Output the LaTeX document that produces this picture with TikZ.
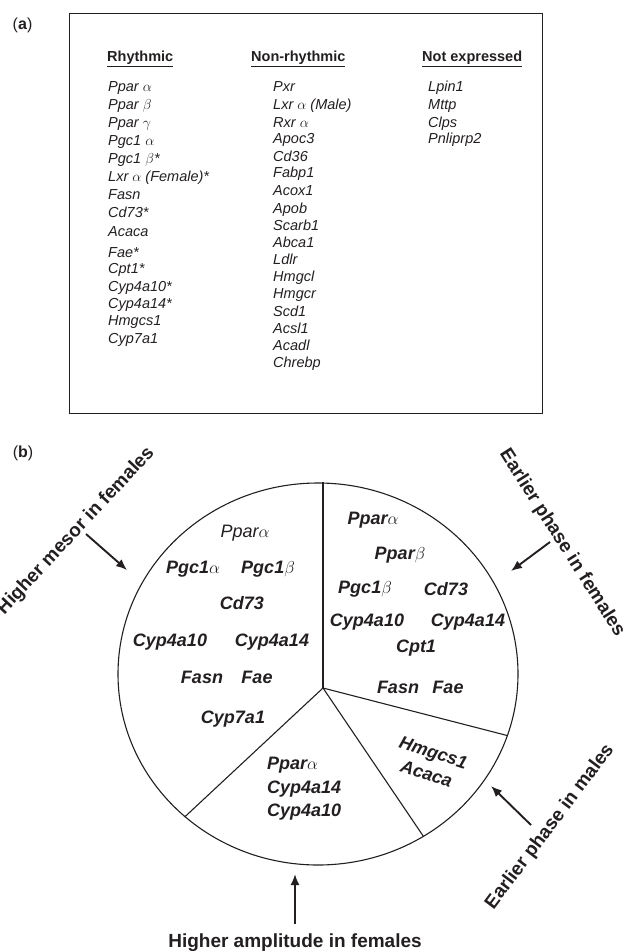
\documentclass[tikz,border=0pt]{standalone}
\usepackage{fontspec}
\setmainfont{Liberation Sans}
\usepackage{tikz}
\usetikzlibrary{shapes.geometric,arrows.meta}
\definecolor{ink}{RGB}{35, 31, 32}

\tikzset{
  gene/.style={anchor=base west, inner sep=0pt, text=ink, font=\itshape\fontsize{14.5}{17}\selectfont},
  head/.style={anchor=base west, inner sep=0pt, text=ink, font=\bfseries\fontsize{14.5}{17}\selectfont},
  slice/.style={inner sep=0pt, text=ink, font=\bfseries\itshape\fontsize{18}{22}\selectfont},
  lightslice/.style={inner sep=0pt, text=ink, font=\itshape\fontsize{18}{22}\selectfont},
  note/.style={inner sep=0pt, text=ink, font=\bfseries\fontsize{19}{22}\selectfont},
  panel/.style={inner sep=0pt, text=ink, font=\fontsize{16}{18}\selectfont},
  pointer/.style={line width=1.9pt, draw=ink, -{Latex[length=11pt, width=9pt]}}
}

\begin{document}
\begin{tikzpicture}
\useasboundingbox (0pt, 0pt) rectangle (625pt, -952pt);
% (a) table of genes
\node (pa) [panel] at (22.5pt, -25pt) {(\textbf{a})};
\draw [line width=1pt, draw=ink] (69pt, -14pt) rectangle (542pt, -413pt);
\node (h1) [head] at (107pt, -62pt) {\underline{Rhythmic}};
\node (h2) [head] at (251pt, -62pt) {\underline{Non-rhythmic}};
\node (h3) [head] at (422pt, -62pt) {\underline{Not expressed}};
\node (r1) [gene] at (108pt, -92pt) {Ppar $\alpha$};
\node (r2) [gene] at (108pt, -110pt) {Ppar $\beta$};
\node (r3) [gene] at (108pt, -128pt) {Ppar $\gamma$};
\node (r4) [gene] at (108pt, -146pt) {Pgc1 $\alpha$};
\node (r5) [gene] at (108pt, -164pt) {Pgc1 $\beta$*};
\node (r6) [gene] at (108pt, -182pt) {Lxr $\alpha$ (Female)*};
\node (r7) [gene] at (108pt, -199pt) {Fasn};
\node (r8) [gene] at (108pt, -217pt) {Cd73*};
\node (r9) [gene] at (108pt, -236pt) {Acaca};
\node (r10) [gene] at (108pt, -257pt) {Fae*};
\node (r11) [gene] at (108pt, -273pt) {Cpt1*};
\node (r12) [gene] at (108pt, -291pt) {Cyp4a10*};
\node (r13) [gene] at (108pt, -308pt) {Cyp4a14*};
\node (r14) [gene] at (108pt, -325pt) {Hmgcs1};
\node (r15) [gene] at (108pt, -343pt) {Cyp7a1};
\node (n1) [gene] at (273pt, -92pt) {Pxr};
\node (n2) [gene] at (273pt, -110pt) {Lxr $\alpha$ (Male)};
\node (n3) [gene] at (273pt, -128pt) {Rxr $\alpha$};
\node (n4) [gene] at (273pt, -144pt) {Apoc3};
\node (n5) [gene] at (273pt, -161pt) {Cd36};
\node (n6) [gene] at (273pt, -178pt) {Fabp1};
\node (n7) [gene] at (273pt, -196pt) {Acox1};
\node (n8) [gene] at (273pt, -213pt) {Apob};
\node (n9) [gene] at (273pt, -230pt) {Scarb1};
\node (n10) [gene] at (273pt, -247pt) {Abca1};
\node (n11) [gene] at (273pt, -264pt) {Ldlr};
\node (n12) [gene] at (273pt, -281pt) {Hmgcl};
\node (n13) [gene] at (273pt, -298pt) {Hmgcr};
\node (n14) [gene] at (273pt, -316pt) {Scd1};
\node (n15) [gene] at (273pt, -333pt) {Acsl1};
\node (n16) [gene] at (273pt, -350pt) {Acadl};
\node (n17) [gene] at (273pt, -367pt) {Chrebp};
\node (x1) [gene] at (428pt, -92pt) {Lpin1};
\node (x2) [gene] at (428pt, -110pt) {Mttp};
\node (x3) [gene] at (428pt, -128pt) {Clps};
\node (x4) [gene] at (428pt, -144pt) {Pnliprp2};
% (b) pie of sex differences
\node (pb) [panel] at (23pt, -453pt) {(\textbf{b})};
\node (pie) [ellipse, draw=ink, line width=1.1pt, minimum width=400pt, minimum height=382pt, inner sep=0pt] at (318pt, -674pt) {};
\coordinate (hub) at (323pt, -688pt);
\draw [line width=1.1pt, draw=ink] (hub) -- (hub |- pie.north);
\draw [line width=1.1pt, draw=ink] (hub) -- (pie.-18);
\draw [line width=1.1pt, draw=ink] (hub) -- (pie.-57);
\draw [line width=1.1pt, draw=ink] (hub) -- (pie.-133);
\node (m1) [lightslice] at (245pt, -533pt) {Ppar$\alpha$};
\node (m2) [slice] at (193pt, -569pt) {Pgc1$\alpha$};
\node (m3) [slice] at (268pt, -569pt) {Pgc1$\beta$};
\node (m4) [slice] at (242pt, -603pt) {Cd73};
\node (m5) [slice] at (170pt, -642pt) {Cyp4a10};
\node (m6) [slice] at (272pt, -642pt) {Cyp4a14};
\node (m7) [slice] at (202pt, -677pt) {Fasn};
\node (m8) [slice] at (257pt, -677pt) {Fae};
\node (m9) [slice] at (233pt, -719pt) {Cyp7a1};
\node (f1) [slice] at (373pt, -520pt) {Ppar$\alpha$};
\node (f2) [slice] at (400pt, -555pt) {Ppar$\beta$};
\node (f3) [slice] at (365pt, -589pt) {Pgc1$\beta$};
\node (f4) [slice] at (446pt, -589pt) {Cd73};
\node (f5) [slice] at (367pt, -622pt) {Cyp4a10};
\node (f6) [slice] at (468pt, -622pt) {Cyp4a14};
\node (f7) [slice] at (416pt, -648pt) {Cpt1};
\node (f8) [slice] at (398pt, -687pt) {Fasn};
\node (f9) [slice] at (448pt, -687pt) {Fae};
\node (a1) [slice, anchor=west] at (267pt, -765pt) {Ppar$\alpha$};
\node (a2) [slice, anchor=west] at (267pt, -789pt) {Cyp4a14};
\node (a3) [slice, anchor=west] at (267pt, -812pt) {Cyp4a10};
\node (s1) [slice, rotate=-18, align=center] at (430pt, -763pt) {Hmgcs1\\Acaca};
% labels and arrows
\node (mesor) [note, rotate=47] at (76pt, -531pt) {Higher mesor in females};
\node (phasef) [note, rotate=-57.5] at (562pt, -543pt) {Earlier phase in females};
\node (phasem) [note, rotate=53] at (550pt, -827pt) {Earlier phase in males};
\node (amp) [note] at (295pt, -943pt) {Higher amplitude in females};
\coordinate (mesortail) at (86pt, -534pt);
\coordinate (mesortip) at (127pt, -570pt);
\coordinate (phaseftail) at (550pt, -542pt);
\coordinate (phaseftip) at (511pt, -571pt);
\coordinate (phasemtail) at (531pt, -825pt);
\coordinate (phasemtip) at (491pt, -786pt);
\coordinate (amptail) at (295pt, -924pt);
\coordinate (amptip) at (295pt, -874pt);
\draw [pointer] (mesortail) to (mesortip);
\draw [pointer] (phaseftail) to (phaseftip);
\draw [pointer] (phasemtail) to (phasemtip);
\draw [pointer] (amptail) to (amptip);
\end{tikzpicture}
\end{document}
